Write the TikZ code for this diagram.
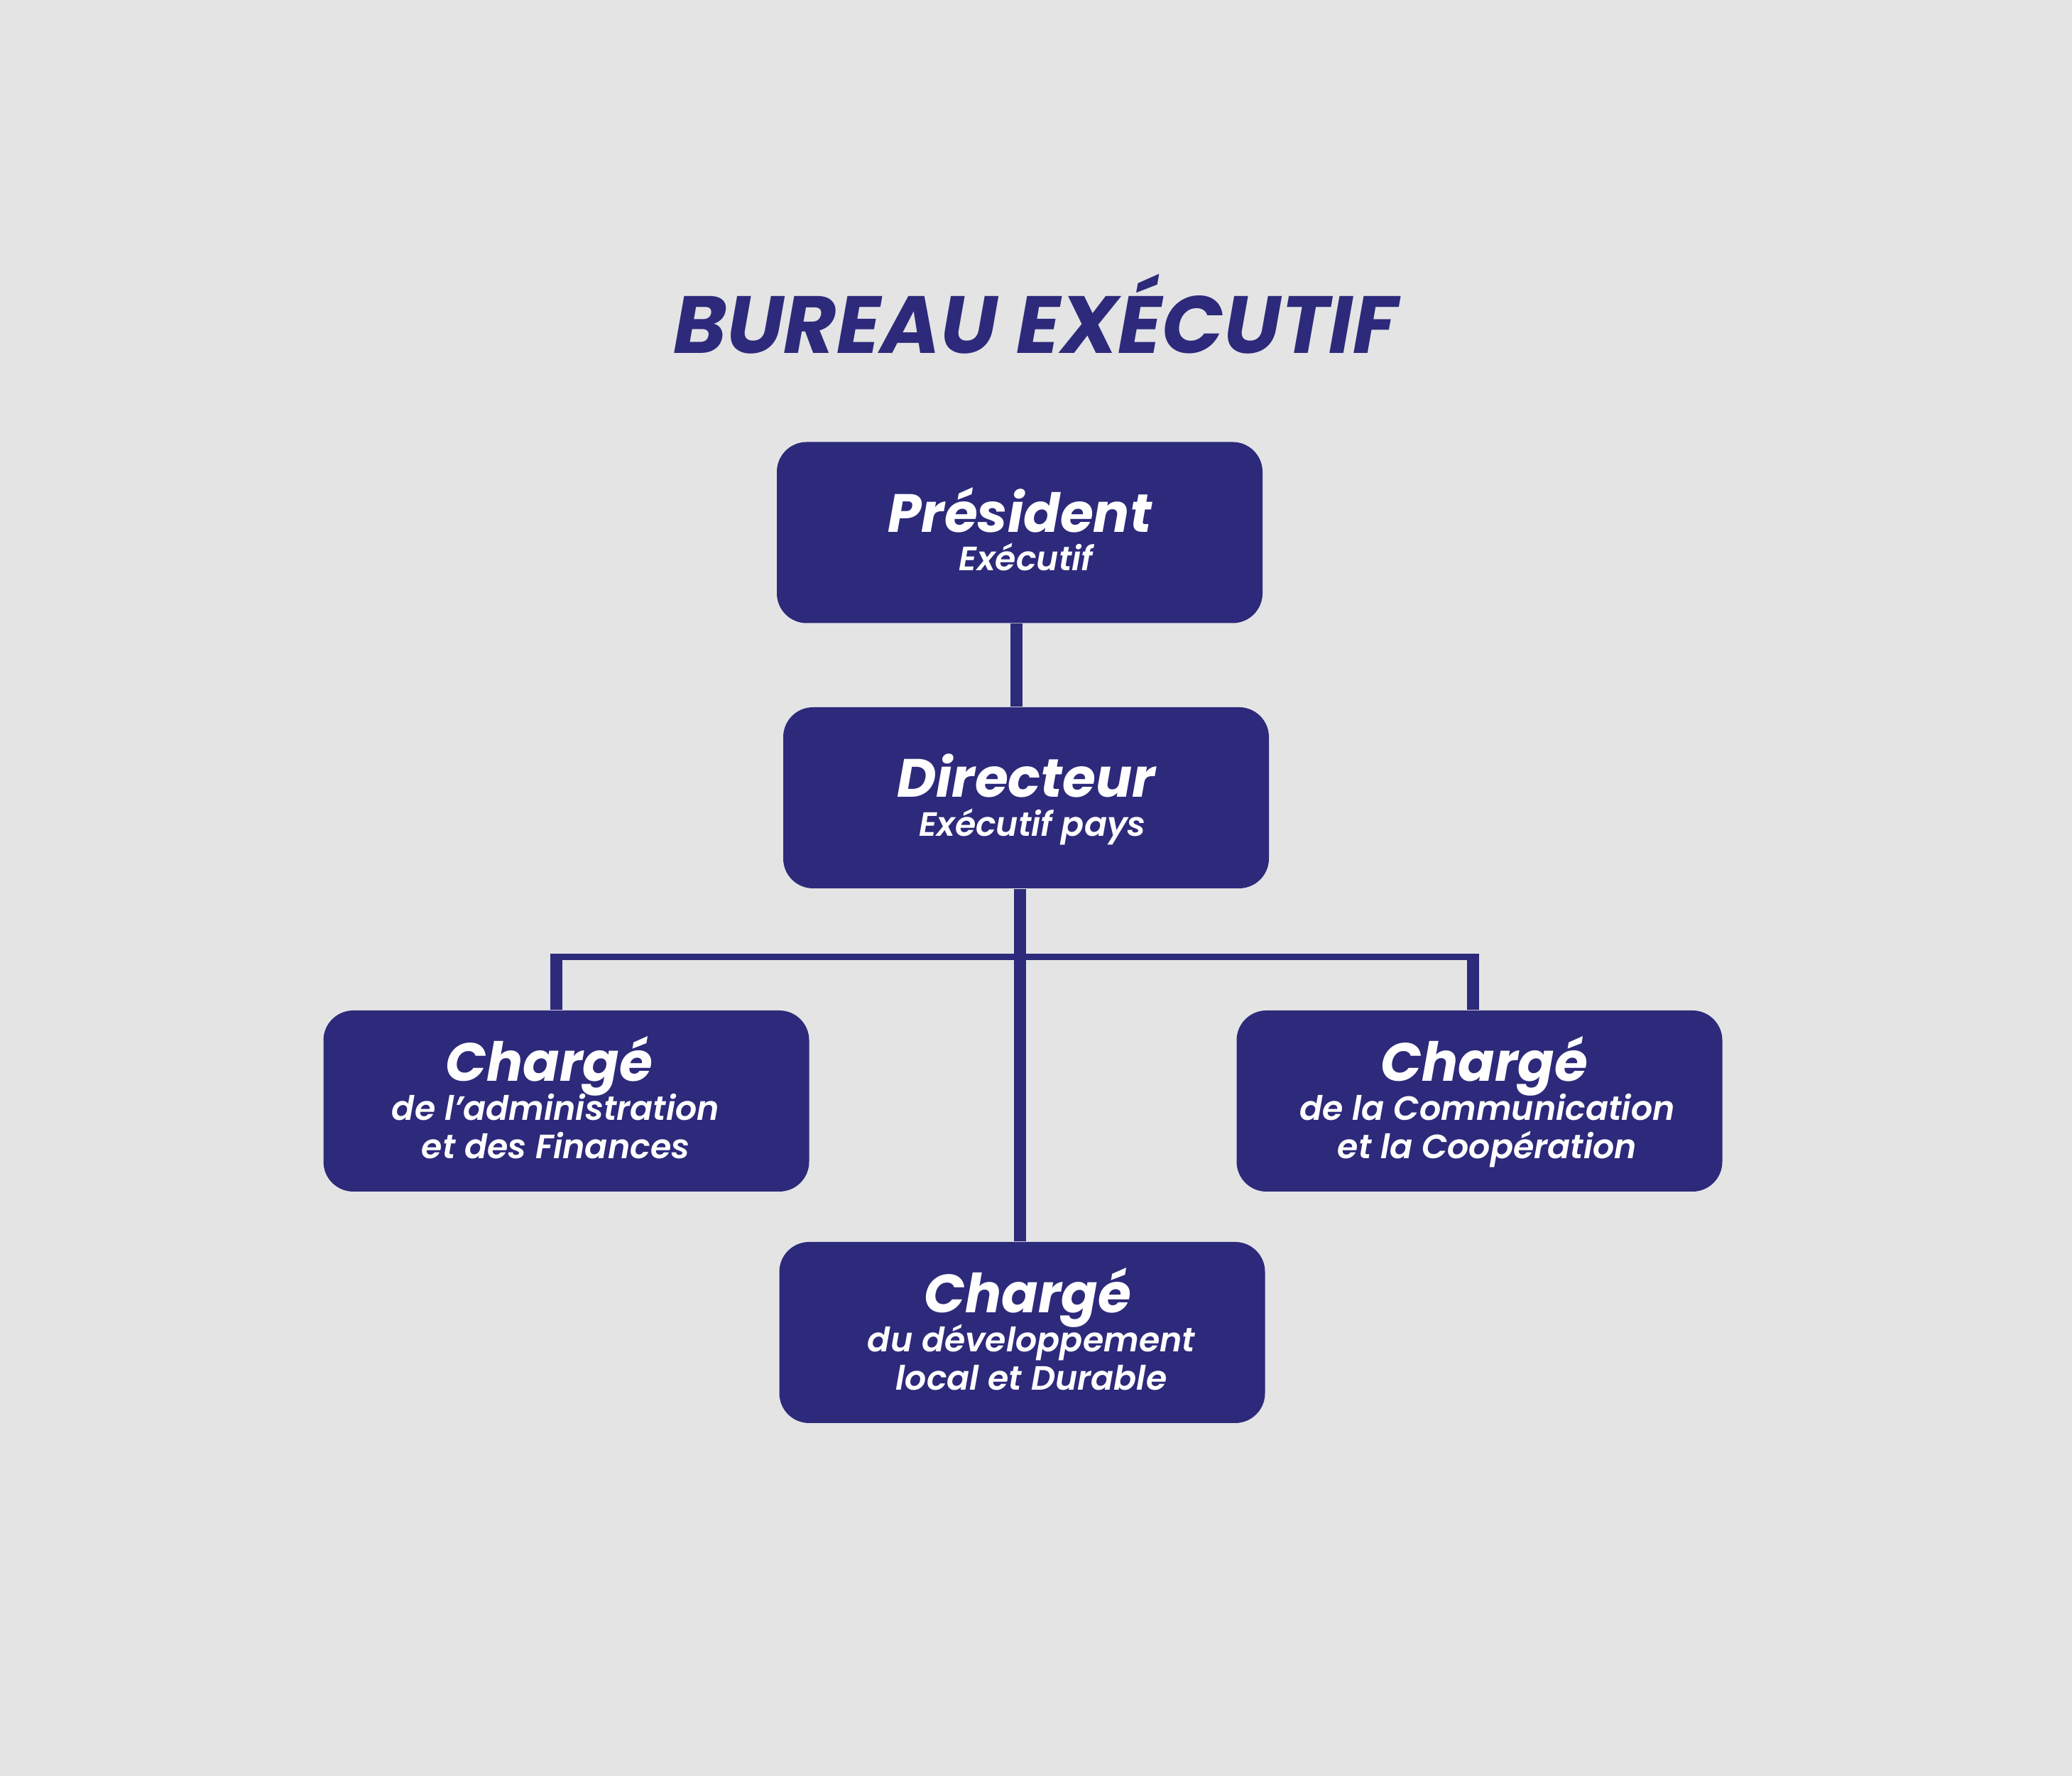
\documentclass[tikz,border=0pt]{standalone}
\usepackage{fontspec}
\newfontfamily\titrefont{Poppins Bold Italic}
\newfontfamily\postefont{Poppins Bold Italic}
\newfontfamily\detailfont{Poppins SemiBold Italic}
\usetikzlibrary{positioning,calc}
\definecolor{marine}{RGB}{45,42,123}
\definecolor{fond}{RGB}{228,228,228}
% optional argument: leading space that moves the line to the right
\newcommand{\intitule}[2][0pt]{{\postefont\fontsize{21.6}{15.6}\selectfont\hspace*{#1}\smash{#2}\rule{0pt}{15.1pt}}}
\newcommand{\detail}[2][0pt]{{\detailfont\fontsize{13.5}{15.6}\selectfont\hspace*{#1}\smash{#2}}}

\begin{document}
\begin{tikzpicture}[node distance=1cm,on grid,
  poste/.style={rectangle,fill=marine,rounded corners=0.42cm,minimum width=6.84cm,minimum height=2.55cm,
    text=white,align=center,inner sep=0pt,font=\fontsize{13.5}{15.6}\selectfont},
  tronc/.style={draw=marine,line width=0.17cm},
  branche/.style={draw=marine,line width=0.09cm}]
\fill[fond] (0,0) rectangle (29.18,25.01);
\useasboundingbox (0,0) rectangle (29.18,25.01);
\node[anchor=base,text=marine,font=\titrefont\fontsize{32.5}{38}\selectfont](titre) at (14.58,20.03){BUREAU EXÉCUTIF};
\node[poste](pres) at (14.36,17.51){\intitule{Président}\\\detail[0.18cm]{Exécutif}};
\node[poste](dir)[below=3.735cm of pres,xshift=0.9mm]{\intitule{Directeur}\\\detail[0.18cm]{Exécutif pays}};
\node[poste](chg_a)[below=4.27cm of dir,xshift=-6.475cm]{\intitule{Chargé\hspace*{0.48cm}}\\\detail{de l’administration\hspace*{0.3cm}}\\\detail{et des Finances\hspace*{0.3cm}}};
\node[poste](chg_c)[below=4.27cm of dir,xshift=6.385cm]{\intitule[0.14cm]{Chargé}\\\detail[0.22cm]{de la Communication}\\\detail[0.22cm]{et la Coopération}};
\node[poste](chg_d)[below=7.53cm of dir,xshift=-0.55mm]{\intitule[0.16cm]{Chargé}\\\detail[0.26cm]{du développement}\\\detail[0.26cm]{local et Durable}};
% liaisons
\coordinate (fourche) at ([yshift=-0.96cm]dir.south);
\coordinate (fa) at ([xshift=-1.45mm]chg_a.north |- fourche);
\coordinate (fc) at ([xshift=-0.95mm]chg_c.north |- fourche);
\draw[tronc] ([xshift=-0.5mm]pres.south) -- ([xshift=-0.5mm]pres.south |- dir.north);
\draw[tronc] ([xshift=-0.9mm]dir.south) -- ([xshift=-0.9mm]dir.south |- chg_d.north);
\draw[branche] ([xshift=-0.085cm]fa) -- ([xshift=0.085cm]fc);
\draw[tronc] ([yshift=0.045cm]fa) -- (fa |- chg_a.north);
\draw[tronc] ([yshift=0.045cm]fc) -- (fc |- chg_c.north);
\end{tikzpicture}
\end{document}
